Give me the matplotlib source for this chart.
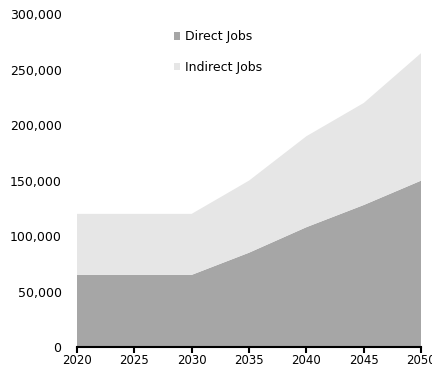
import matplotlib
matplotlib.use("Agg")
import matplotlib.pyplot as plt
from matplotlib.ticker import FuncFormatter

plt.rcParams["font.family"] = ["DejaVu Sans"]

years = [2020, 2025, 2030, 2035, 2040, 2045, 2050]
direct_jobs = [65000, 65000, 65000, 85000, 108000, 128000, 150000]
indirect_jobs = [55000, 55000, 55000, 65000, 82000, 92000, 115000]

fig = plt.figure(figsize=(4.32, 3.83), dpi=100)
ax = fig.add_axes([0.178, 0.094, 0.797, 0.869])

ax.stackplot(years, direct_jobs, indirect_jobs,
             colors=["#a6a6a6", "#e6e6e6"],
             labels=["Direct Jobs", "Indirect Jobs"])

ax.set_xlim(2020, 2050)
ax.set_ylim(0, 300000)
ax.set_xticks(years)
ax.set_yticks(range(0, 300001, 50000))
ax.yaxis.set_major_formatter(FuncFormatter(lambda v, p: f"{int(v):,}"))

for s in ["top", "right", "left"]:
    ax.spines[s].set_visible(False)
ax.spines["bottom"].set_linewidth(1.5)
ax.tick_params(axis="y", length=0, labelsize=9, pad=11)
ax.tick_params(axis="x", length=4, width=1.5, labelsize=8.5, pad=1)

ax.legend(loc="upper left", bbox_to_anchor=(0.25, 0.985), frameon=False,
          fontsize=9, handlelength=0.5, handleheight=0.5, labelspacing=1.4,
          handletextpad=0.4)

fig.savefig("out.png", dpi=100)
